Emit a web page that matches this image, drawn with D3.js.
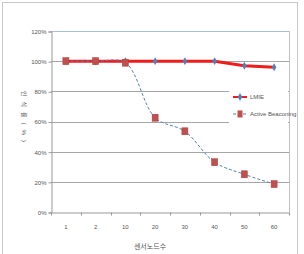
<!DOCTYPE html>
<html>
<head>
<meta charset="utf-8">
<script src="https://cdn.jsdelivr.net/npm/d3@7"></script>
<style>
  body { margin: 0; background: #fff; }
  text { font-family: "Liberation Sans", "Noto Sans CJK KR", sans-serif; fill: #555; }
</style>
</head>
<body>
<div id="chart"></div>
<script>
// data
var categories = ["1", "2", "10", "20", "30", "40", "50", "60"];
var lmieValues = [100, 100, 100, 100, 100, 100, 97, 96];
var abValues = [100, 100, 99, 62.5, 53.5, 33, 25, 18.5];
var yTicks = [0, 20, 40, 60, 80, 100, 120];
var seriesNames = ["LMIE", "Active Beaconing"];

// plot area edges
var width = 304, height = 254;
var plotLeft = 51, plotRight = 289, plotTop = 31, plotBottom = 212;

var svg = d3.select("#chart").append("svg")
  .attr("width", width)
  .attr("height", height);

// outer frame
svg.append("rect")
  .attr("x", 2.5).attr("y", 2.5)
  .attr("width", 295).attr("height", 270)
  .attr("fill", "none")
  .attr("stroke", "#c8c8c8");

var x = d3.scaleBand().domain(categories).range([plotLeft, plotRight]);
var y = d3.scaleLinear().domain([0, 120]).range([plotBottom, plotTop]);

// gridlines
svg.append("g")
  .selectAll("line")
  .data(yTicks.filter(function(d) { return d > 0; }))
  .enter()
  .append("line")
  .attr("x1", plotLeft).attr("x2", plotRight)
  .attr("y1", function(d) { return Math.round(y(d)) + 0.5; })
  .attr("y2", function(d) { return Math.round(y(d)) + 0.5; })
  .attr("stroke", function(d) { return d == 120 ? "#a9bfdc" : "#a6a6a6"; });

// right border of plot area
svg.append("line")
  .attr("x1", plotRight + 0.5).attr("x2", plotRight + 0.5)
  .attr("y1", plotTop).attr("y2", plotBottom)
  .attr("stroke", "#c0c0c0");

// y axis
var yAxis = svg.append("g")
  .attr("transform", "translate(" + (plotLeft + 0.5) + ",0.5)")
  .call(d3.axisLeft(y).tickValues(yTicks).tickSize(3).tickPadding(2)
    .tickFormat(function(d) { return d + "%"; }));
yAxis.select(".domain").attr("stroke", "#999");
yAxis.selectAll(".tick line").attr("stroke", "#999");
yAxis.selectAll("text").attr("font-size", "6px").attr("fill", "#555");

// x axis
var xAxis = svg.append("g")
  .attr("transform", "translate(0," + (plotBottom + 0.5) + ")")
  .call(d3.axisBottom(x).tickSize(0).tickPadding(12));
xAxis.select(".domain").attr("stroke", "#999");
xAxis.selectAll("text").attr("font-size", "6px").attr("fill", "#555");
// tick marks between categories
xAxis.append("g")
  .selectAll("line")
  .data(categories.concat(["end"]))
  .enter()
  .append("line")
  .attr("x1", function(d, i) { return Math.round(plotLeft + i * x.step()) + 0.5; })
  .attr("x2", function(d, i) { return Math.round(plotLeft + i * x.step()) + 0.5; })
  .attr("y1", 0).attr("y2", 3)
  .attr("stroke", "#999");

// axis titles
svg.append("text")
  .attr("x", 150).attr("y", 249)
  .attr("text-anchor", "middle")
  .attr("font-size", "7px")
  .text("센서노드수");

svg.append("text")
  .attr("transform", "translate(22,119) rotate(90)")
  .attr("text-anchor", "middle")
  .attr("font-size", "6px")
  .attr("letter-spacing", "5px")
  .text("인식률(%)");

// legend background (covers gridlines)
svg.append("rect")
  .attr("x", 229).attr("y", 80)
  .attr("width", 59).attr("height", 46)
  .attr("fill", "#fff");

var cx = function(d, i) { return x(categories[i]) + x.bandwidth() / 2; };

// LMIE line
var line = d3.line()
  .x(function(d, i) { return cx(d, i); })
  .y(function(d) { return y(d); });

svg.append("path")
  .datum(lmieValues)
  .attr("d", line)
  .attr("fill", "none")
  .attr("stroke", "#f01c1c")
  .attr("stroke-width", 3);

var diamond = d3.symbol().type(d3.symbolDiamond).size(18);
svg.append("g")
  .selectAll("path")
  .data(lmieValues)
  .enter()
  .append("path")
  .attr("d", diamond)
  .attr("transform", function(d, i) { return "translate(" + cx(d, i) + "," + y(d) + ")"; })
  .attr("fill", "#4f81bd");

// Active Beaconing line (smoothed like excel)
var smooth = d3.line()
  .x(function(d, i) { return cx(d, i); })
  .y(function(d) { return y(d); })
  .curve(d3.curveCatmullRom.alpha(0.5));

svg.append("path")
  .datum(abValues)
  .attr("d", smooth)
  .attr("fill", "none")
  .attr("stroke", "#4f81bd")
  .attr("stroke-width", 1)
  .attr("stroke-dasharray", "3,2");

svg.append("g")
  .selectAll("rect")
  .data(abValues)
  .enter()
  .append("rect")
  .attr("x", function(d, i) { return cx(d, i) - 3; })
  .attr("y", function(d) { return y(d) - 3.5; })
  .attr("width", 6).attr("height", 7)
  .attr("fill", "#c0504d")
  .attr("stroke", "#a33e3b")
  .attr("stroke-width", 0.5);

// legend
var legend = svg.append("g");
legend.append("line")
  .attr("x1", 233).attr("x2", 247).attr("y1", 97).attr("y2", 97)
  .attr("stroke", "#f01c1c").attr("stroke-width", 2);
legend.append("path")
  .attr("d", diamond)
  .attr("transform", "translate(240,97)")
  .attr("fill", "#4f81bd");
legend.append("text")
  .attr("x", 250).attr("y", 99)
  .attr("font-size", "6px")
  .text(seriesNames[0]);

legend.append("line")
  .attr("x1", 233).attr("x2", 247).attr("y1", 114).attr("y2", 114)
  .attr("stroke", "#4f81bd").attr("stroke-width", 1)
  .attr("stroke-dasharray", "3,2");
legend.append("rect")
  .attr("x", 237.5).attr("y", 110.5).attr("width", 5).attr("height", 7)
  .attr("fill", "#c0504d");
legend.append("text")
  .attr("x", 250).attr("y", 116)
  .attr("font-size", "6px")
  .text(seriesNames[1]);
</script>
</body>
</html>
